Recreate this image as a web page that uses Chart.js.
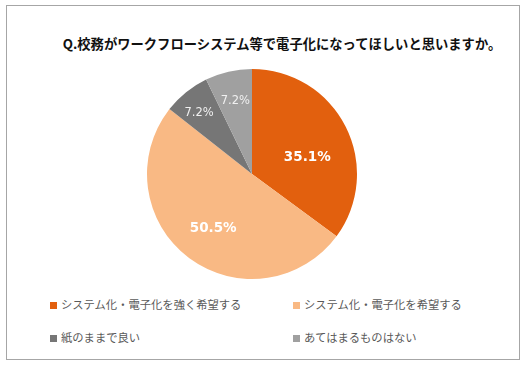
<!DOCTYPE html>
<html><head><meta charset="utf-8">
<script src="https://cdn.jsdelivr.net/npm/chart.js@4"></script>
<style>
html,body{margin:0;padding:0;background:#fff;}
#frame{position:absolute;left:6px;top:5px;width:514px;height:355px;border:1.5px solid #a6a6a6;box-sizing:border-box;}
#title{position:absolute;left:0;width:524px;top:34px;text-align:center;padding-left:40px;box-sizing:border-box;font:bold 13.3px "Noto Sans CJK JP";color:#111;white-space:nowrap;}
#pie{position:absolute;left:137px;top:59px;width:230px;height:230px;}
.lg{position:absolute;font:11.3px "Noto Sans CJK JP";color:#595959;white-space:nowrap;line-height:14px;}
.lg i{display:inline-block;width:7px;height:7px;margin-right:4px;vertical-align:0px;}
</style></head><body>
<div id="frame"></div>
<div id="title"></div>
<div id="pie"><canvas id="c" width="230" height="230"></canvas></div>
<div id="legend"></div>
<script>
const titleText = "Q.校務がワークフローシステム等で電子化になってほしいと思いますか。";
const categories = ["システム化・電子化を強く希望する","システム化・電子化を希望する","紙のままで良い","あてはまるものはない"];
const values = [35.1, 50.5, 7.2, 7.2];
const colors = ["#E2600E","#F9B984","#767676","#A0A0A0"];

document.getElementById('title').textContent = titleText;
const legendPos = [[50,297],[293,297],[50,330],[293,330]];
const lg = document.getElementById('legend');
categories.forEach((c,i)=>{
  const d=document.createElement('div');d.className='lg';
  d.style.left=legendPos[i][0]+'px';d.style.top=legendPos[i][1]+'px';
  const sq=document.createElement('i');sq.style.background=colors[i];
  d.appendChild(sq);d.appendChild(document.createTextNode(c));
  lg.appendChild(d);
});

const labelStyle = [
  {r:0.55, shift:10, font:'bold 13.5px "DejaVu Sans"', color:'#ffffff'},
  {r:0.64, shift:-2, font:'bold 13.5px "DejaVu Sans"', color:'#ffffff'},
  {r:0.77, shift:-2, font:'11.5px "DejaVu Sans"', color:'#f0f0f0'},
  {r:0.71, shift:0, font:'11.5px "DejaVu Sans"', color:'#f0f0f0'}
];
const labelPlugin = {
  id:'lbl',
  afterDatasetsDraw(chart){
    const ctx=chart.ctx;
    const meta=chart.getDatasetMeta(0);
    meta.data.forEach((arc,i)=>{
      const p=arc.getProps(['x','y','startAngle','endAngle','outerRadius'],true);
      const st=labelStyle[i];
      const a=(p.startAngle+p.endAngle)/2 + st.shift*Math.PI/180;
      const x=p.x+Math.cos(a)*p.outerRadius*st.r;
      const y=p.y+Math.sin(a)*p.outerRadius*st.r;
      ctx.save();ctx.font=st.font;ctx.fillStyle=st.color;ctx.textAlign='center';ctx.textBaseline='middle';
      ctx.fillText(values[i].toFixed(1)+'%',x,y);ctx.restore();
    });
  }
};
new Chart(document.getElementById('c'),{
  type:'pie',
  data:{labels:categories,datasets:[{data:values,backgroundColor:colors,borderWidth:0}]},
  options:{responsive:false,animation:false,layout:{padding:10},
    plugins:{legend:{display:false},tooltip:{enabled:false}}},
  plugins:[labelPlugin]
});
</script></body></html>
